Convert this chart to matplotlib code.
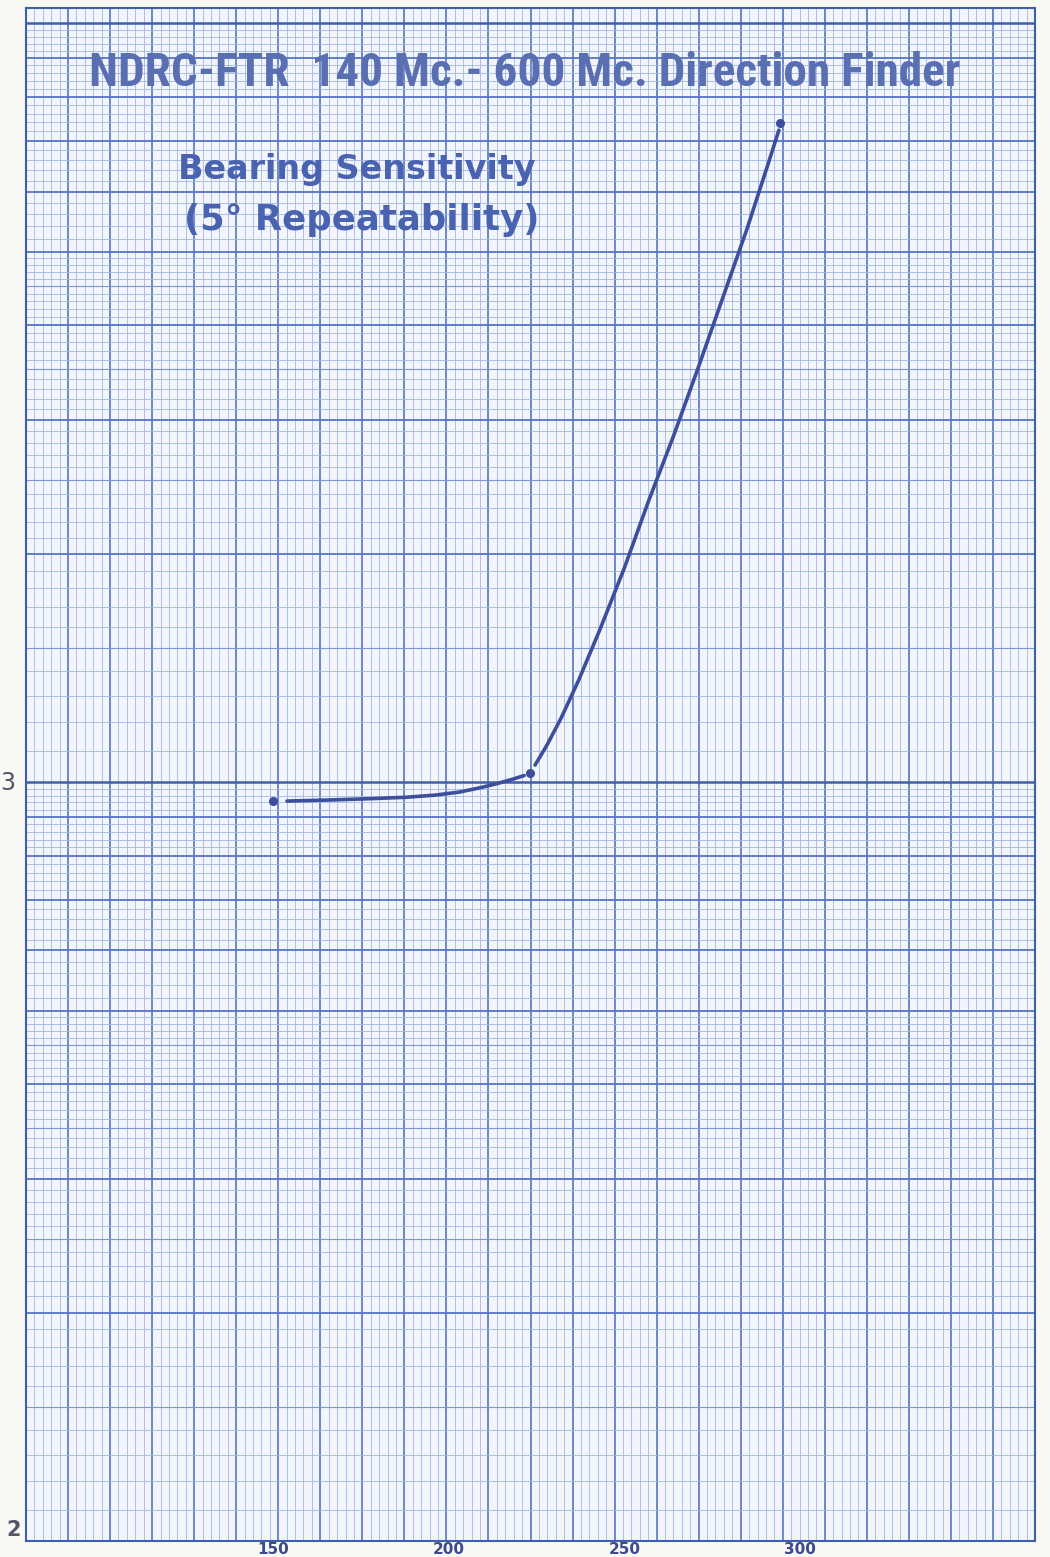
import numpy as np
import matplotlib
matplotlib.use("Agg")
import matplotlib.pyplot as plt
from matplotlib import font_manager

# frequency (Mc) vs bearing sensitivity
pts_x = [150.0, 223.2, 294.3]
pts_y = [945, 1027, 7380]

# hand drawn curve, flat part then steep part
flat_x = [154.0, 166.0, 178.0, 188.0, 196.0, 203.0, 209.0, 214.0, 218.0, 221.5]
flat_y = [944, 947, 951, 955, 961, 970, 983, 996, 1008, 1020]
rise_x = [224.6, 228, 232, 237, 243, 250, 257, 264, 271, 278, 285, 291, 294]
rise_y = [1053, 1119, 1214, 1362, 1586, 1914, 2352, 2857, 3512, 4342, 5370, 6538, 7228]

xticks = [150, 200, 250, 300]
xlim = (79.7, 366.9)
ylim = (100, 10470)

title = "NDRC-FTR  140 Mc.- 600 Mc. Direction Finder"
sub1 = "Bearing Sensitivity"
sub2 = "(5\u00b0 Repeatability)"

names = {f.name for f in font_manager.fontManager.ttflist}
def pick(cands):
    for c in cands:
        if c in names:
            return c
    return "DejaVu Sans"
narrow = pick(["Liberation Sans Narrow", "Roboto Condensed", "Open Sans Condensed", "Roboto"])
wide = "DejaVu Sans"

ink = "#4a63b0"
minor_c = "#a3b6e2"
major_c = "#5575c2"

fig = plt.figure(figsize=(10.5, 15.57), dpi=100, facecolor="#f8f8f5")
ax = fig.add_axes([26/1050, 16/1557, 1009/1050, 1533/1557])
ax.set_facecolor("#f2f5fb")
ax.set_yscale("log")
ax.set_xlim(*xlim)
ax.set_ylim(*ylim)

# graph paper: 120 vertical divisions, heavy every 5
gx = np.linspace(xlim[0], xlim[1], 121)
for i, v in enumerate(gx):
    heavy = i % 5 == 0
    ax.axvline(v, color=major_c if heavy else minor_c,
               lw=1.2 if heavy else 0.6, zorder=1)

# log rulings
for dec in [100, 1000, 10000]:
    vals = list(np.arange(1.0, 5.0, 0.1)) + list(np.arange(5.0, 10.0, 0.2))
    for v in vals:
        y = v * dec
        if y > ylim[1]:
            continue
        whole = abs(v - round(v)) < 1e-6
        if whole and round(v) == 1:
            ax.axhline(y, color="#3f5eae", lw=1.8, zorder=1)
        elif whole:
            ax.axhline(y, color=major_c, lw=1.3, zorder=1)
        elif abs(v * 2 - round(v * 2)) < 1e-6:
            ax.axhline(y, color="#7f98d2", lw=0.8, zorder=1)
        else:
            ax.axhline(y, color=minor_c, lw=0.6, zorder=1)

for s in ax.spines.values():
    s.set_color("#3f5eae")
    s.set_linewidth(1.5)

ax.plot(flat_x, flat_y, color="#3c4e9c", lw=2.6, solid_capstyle="round", zorder=3)
ax.plot(rise_x, rise_y, color="#3c4e9c", lw=2.6, solid_capstyle="round", zorder=3)
ax.plot(pts_x, pts_y, "o", color="#3c4e9c", ms=5.5, zorder=4)

ax.set_xticks(xticks)
ax.set_xticklabels([str(t) for t in xticks])
ax.set_yticks([])
ax.set_yticks([], minor=True)
ax.tick_params(axis="x", length=0, pad=0.5, labelsize=11, labelcolor="#3d4a8a")
for lab in ax.get_xticklabels():
    lab.set_fontweight("bold")

fig.text(8/1050, 1 - 783/1557, "3", ha="center", va="center",
         fontsize=17, color="#555566")
fig.text(14/1050, 1 - 1530/1557, "2", ha="center", va="center",
         fontsize=15, color="#555566", fontweight="bold")

labels = [
    (title, 525, 73, 870, "#5a6fb2", narrow),
    (sub1, 357, 170, 357, ink, wide),
    (sub2, 362, 220, 355, ink, wide),
]
texts = []
for s, cx, cy, w, c, fam in labels:
    t = fig.text(cx/1050, 1 - cy/1557, s, ha="center", va="center",
                 fontsize=30, fontweight="bold", color=c, family=fam)
    texts.append((t, w))

# shrink each heading to the width it takes on the sheet
fig.canvas.draw()
r = fig.canvas.get_renderer()
for t, w in texts:
    cur = t.get_window_extent(r).width
    t.set_fontsize(30 * w / cur)

fig.savefig("out.png", dpi=100, facecolor=fig.get_facecolor())
